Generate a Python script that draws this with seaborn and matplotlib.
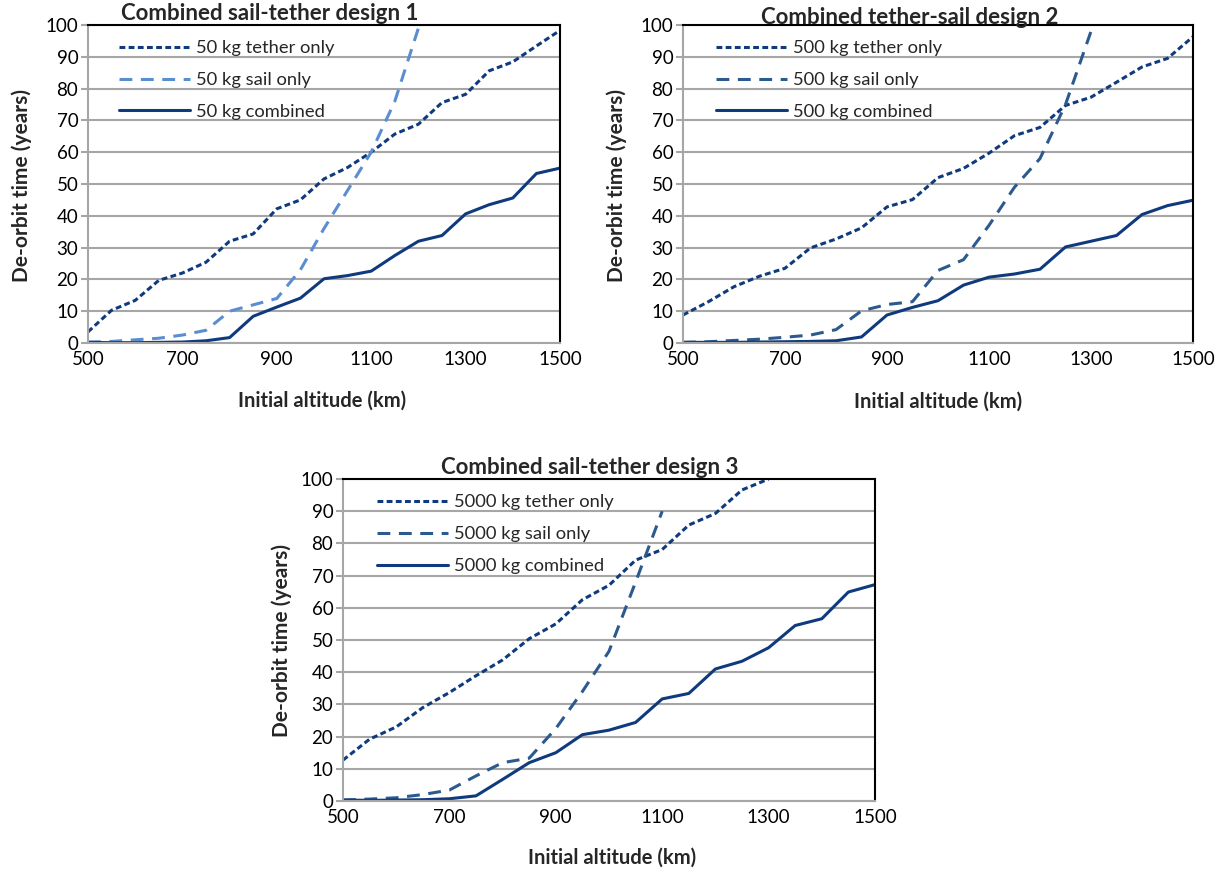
import matplotlib
matplotlib.use("Agg")
import matplotlib.pyplot as plt
import seaborn as sns
import pandas as pd

sns.set_theme(style="white")
plt.rcParams['font.family'] = ['Lato', 'DejaVu Sans']

# ---------------- data ----------------
alt = [500, 550, 600, 650, 700, 750, 800, 850, 900, 950, 1000, 1050,
       1100, 1150, 1200, 1250, 1300, 1350, 1400, 1450, 1500]

# design 1 (50 kg)
d1_tether = [3.5, 10.3, 13.4, 19.7, 22.0, 25.4, 32.0, 34.3, 42.2, 45.0, 51.6, 55.2,
             60.0, 65.7, 68.8, 75.6, 78.2, 85.6, 88.4, 93.4, 98.3]
d1_sail = [0.3, 0.5, 1.0, 1.5, 2.5, 4.0, 10.0, 12.0, 14.0, 23.0, 36.0, 48.0,
           60.0, 76.0, 99.0]
d1_comb = [0.2, 0.1, 0.1, 0.2, 0.3, 0.7, 1.7, 8.4, 11.3, 14.1, 20.2, 21.2,
           22.6, 27.5, 32.0, 33.8, 40.6, 43.5, 45.6, 53.3, 55.0]

# design 2 (500 kg)
d2_tether = [8.8, 13.0, 17.7, 21.0, 23.5, 29.9, 32.7, 36.2, 42.8, 45.1, 52.0, 54.9,
             59.7, 65.2, 67.8, 74.7, 77.3, 82.0, 86.8, 89.5, 96.3]
d2_sail = [0.2, 0.4, 0.8, 1.2, 1.8, 2.5, 4.2, 10.1, 12.1, 13.0, 22.8, 26.2,
           37.0, 49.0, 58.0, 75.0, 98.0]
d2_comb = [0.2, 0.2, 0.2, 0.3, 0.4, 0.5, 0.7, 1.9, 8.8, 11.2, 13.3, 18.2,
           20.7, 21.7, 23.2, 30.2, 32.0, 33.8, 40.4, 43.2, 44.9]

# design 3 (5000 kg)
d3_tether = [12.7, 19.2, 23.0, 29.0, 33.7, 38.9, 43.8, 50.4, 55.0, 62.5, 67.0, 74.8,
             78.1, 85.7, 89.3, 96.6, 100.0]
d3_sail = [0.3, 0.6, 1.0, 2.0, 3.4, 7.8, 11.9, 13.3, 22.5, 34.0, 46.5, 68.0, 90.0]
d3_comb = [0.3, 0.2, 0.3, 0.4, 0.7, 1.6, 6.7, 11.9, 15.0, 20.6, 22.0, 24.4,
           31.7, 33.4, 41.0, 43.4, 47.6, 54.5, 56.6, 64.9, 67.2]

titles = ["Combined sail-tether design 1", "Combined tether-sail design 2",
          "Combined sail-tether design 3"]
masses = ["50 kg", "500 kg", "5000 kg"]
x_ticks = [500, 700, 900, 1100, 1300, 1500]
y_ticks = list(range(0, 101, 10))

# ---------------- styling ----------------
W, H = 1229, 872
fig = plt.figure(figsize=(W / 100, H / 100), dpi=100)
fig.patch.set_facecolor("white")

navy = "#0F3B7E"
sail_colors = ["#5A8ED0", "#2C5A8E", "#2C5A8E"]
tether_ls = (0, (1.9, 1.1))
sail_ls = (0, (4.2, 2.8))
lw = 2.2

# axes boxes in pixels: left, right, top, bottom
boxes = [(88, 560, 25, 343), (683, 1193, 25, 343), (343, 875, 479, 801)]
title_pos = [(270, 14), (910, 17), (590, 467)]
ylab_pos = [(22, 185), (617, 185), (282, 640)]
xlab_pos = [(322, 401), (938, 402), (612, 858)]

series = [(d1_tether, d1_sail, d1_comb), (d2_tether, d2_sail, d2_comb),
          (d3_tether, d3_sail, d3_comb)]

for i, (l, r, t, b) in enumerate(boxes):
    ax = fig.add_axes([l / W, 1 - b / H, (r - l) / W, (b - t) / H])
    teth, sail, comb = series[i]
    m = masses[i]
    df_t = pd.DataFrame({"alt": alt[:len(teth)], "yrs": teth})
    df_s = pd.DataFrame({"alt": alt[:len(sail)], "yrs": sail})
    df_c = pd.DataFrame({"alt": alt[:len(comb)], "yrs": comb})
    sns.lineplot(data=df_t, x="alt", y="yrs", ax=ax, color=navy, lw=lw,
                 linestyle=tether_ls, label=f"{m} tether only")
    sns.lineplot(data=df_s, x="alt", y="yrs", ax=ax, color=sail_colors[i], lw=lw,
                 linestyle=sail_ls, label=f"{m} sail only")
    sns.lineplot(data=df_c, x="alt", y="yrs", ax=ax, color=navy, lw=lw,
                 linestyle="-", label=f"{m} combined")
    for ln in ax.lines:
        ln.set_dash_capstyle("butt")
        ln.set_solid_joinstyle("round")

    ax.set_xlim(500, 1500)
    ax.set_ylim(0, 100)
    ax.set_xticks(x_ticks)
    ax.set_yticks(y_ticks)
    ax.set_xlabel("")
    ax.set_ylabel("")
    ax.grid(axis="y", color="#A6A6A6", lw=1.5)
    ax.grid(axis="x", visible=False)
    ax.set_axisbelow(True)
    for s in ["top", "right"]:
        ax.spines[s].set_color("black")
        ax.spines[s].set_linewidth(1.5)
    for s in ["left", "bottom"]:
        ax.spines[s].set_color("#A6A6A6")
        ax.spines[s].set_linewidth(1.5)
    ax.tick_params(axis="y", which="both", left=True, length=5, width=1.5,
                   color="#A6A6A6", labelsize=13.5, pad=2, labelcolor="black")
    ax.tick_params(axis="x", which="both", bottom=False, length=0,
                   labelsize=13.5, pad=6, labelcolor="black")

    leg = ax.legend(loc="upper left", bbox_to_anchor=(0.05, 0.975), frameon=False,
                    handlelength=3.9, handletextpad=0.32, labelspacing=0.86,
                    fontsize=13.2, borderaxespad=0)

    fig.text(title_pos[i][0] / W, 1 - title_pos[i][1] / H, titles[i],
             ha="center", va="center", fontsize=16, fontweight="bold")
    fig.text(ylab_pos[i][0] / W, 1 - ylab_pos[i][1] / H, "De-orbit time (years)",
             ha="center", va="center", rotation=90, fontsize=15, fontweight="bold")
    fig.text(xlab_pos[i][0] / W, 1 - xlab_pos[i][1] / H, "Initial altitude (km)",
             ha="center", va="center", fontsize=14.5, fontweight="bold")

fig.savefig("out.png", dpi=100, facecolor="white")
